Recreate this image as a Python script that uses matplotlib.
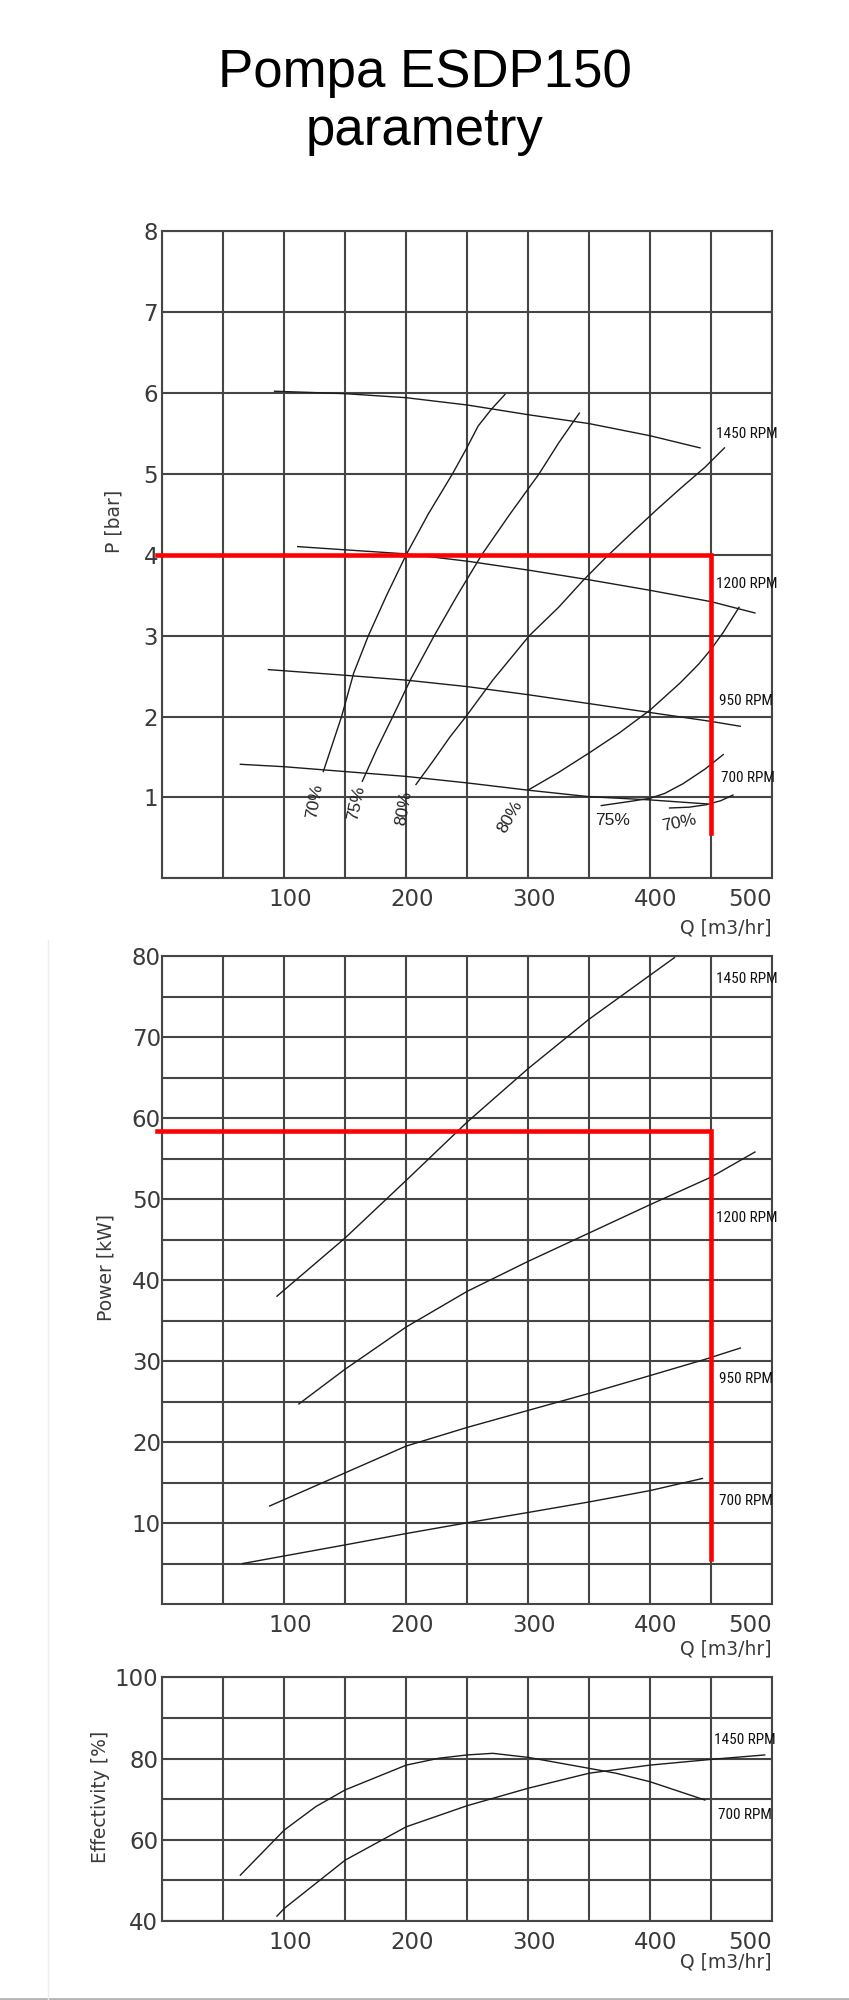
import matplotlib
matplotlib.use("Agg")
import matplotlib.pyplot as plt
from matplotlib.lines import Line2D
from matplotlib.transforms import ScaledTranslation

# ---- head curves P [bar] vs Q [m3/hr] ----
head_q_1450 = [92, 150, 200, 250, 300, 350, 400, 441]
head_p_1450 = [6.02, 5.99, 5.94, 5.85, 5.73, 5.62, 5.47, 5.32]
head_q_1200 = [111, 150, 200, 250, 300, 350, 400, 450, 486]
head_p_1200 = [4.10, 4.06, 4.01, 3.92, 3.81, 3.69, 3.56, 3.42, 3.28]
head_q_950 = [87, 150, 200, 250, 300, 350, 400, 450, 474]
head_p_950 = [2.58, 2.51, 2.45, 2.37, 2.27, 2.16, 2.05, 1.94, 1.88]
head_q_700 = [64, 100, 150, 200, 250, 300, 350, 400, 447]
head_p_700 = [1.41, 1.38, 1.32, 1.26, 1.18, 1.09, 1.01, 0.97, 0.92]

# iso-efficiency lines
iso70_q = [132, 136, 147, 157, 169, 184, 200, 218, 238, 249, 259, 270, 281]
iso70_p = [1.32, 1.5, 2.0, 2.54, 3.0, 3.5, 4.0, 4.5, 5.0, 5.3, 5.59, 5.8, 5.98]
iso75_q = [164, 176, 189, 204, 223, 242, 262, 285, 309, 325, 342]
iso75_p = [1.2, 1.6, 2.0, 2.47, 3.0, 3.5, 4.0, 4.5, 5.0, 5.38, 5.75]
iso80a_q = [208, 222, 236, 249, 271, 301, 325, 345, 364, 385, 405, 425, 445, 461]
iso80a_p = [1.16, 1.45, 1.75, 2.0, 2.45, 3.0, 3.35, 3.68, 3.97, 4.27, 4.55, 4.82, 5.08, 5.32]
iso80b_q = [301, 325, 350, 375, 400, 425, 440, 450, 460, 473]
iso80b_p = [1.10, 1.31, 1.55, 1.8, 2.08, 2.42, 2.65, 2.83, 3.04, 3.35]
iso75b_q = [360, 383, 400, 412, 427, 445, 460]
iso75b_p = [0.90, 0.95, 0.99, 1.05, 1.17, 1.35, 1.53]
iso70b_q = [416, 432, 446, 458, 468]
iso70b_p = [0.87, 0.88, 0.91, 0.96, 1.03]

# ---- power curves [kW] ----
pow_q_1450 = [94, 150, 200, 250, 300, 350, 420]
pow_kw_1450 = [38.0, 45.2, 52.3, 59.5, 66.1, 72.2, 79.8]
pow_q_1200 = [112, 150, 200, 250, 300, 350, 400, 450, 486]
pow_kw_1200 = [24.7, 29.0, 34.2, 38.6, 42.3, 45.8, 49.3, 52.7, 55.8]
pow_q_950 = [88, 150, 200, 250, 300, 350, 400, 445, 474]
pow_kw_950 = [12.1, 16.2, 19.5, 21.8, 23.9, 26.0, 28.2, 30.2, 31.6]
pow_q_700 = [66, 150, 200, 249, 300, 350, 400, 443]
pow_kw_700 = [5.0, 7.3, 8.7, 10.0, 11.3, 12.6, 14.0, 15.5]

# ---- efficiency curves [%] ----
eff_q_700 = [64, 100, 126, 150, 200, 227, 250, 271, 300, 350, 372, 400, 445]
eff_e_700 = [51.3, 62.4, 68.2, 72.3, 78.4, 80.1, 80.9, 81.3, 80.3, 77.6, 76.4, 74.3, 69.8]
eff_q_1450 = [94, 100, 150, 200, 250, 300, 350, 400, 450, 494]
eff_e_1450 = [41.2, 43.1, 55.0, 63.2, 68.4, 72.7, 76.4, 78.4, 79.8, 80.9]

# operating point (red)
op_q = 450
op_p = 4.0
op_p_low = 0.56
op_kw = 58.4
op_kw_low = 5.6

x_labels = ["100", "200", "300", "400", "500"]

GRID = "#454545"
CURVE = "#1c1c1c"
TXT = "#3a3a3a"
NARROW = ["Liberation Sans Narrow", "DejaVu Sans Condensed", "Roboto Condensed",
          "Roboto", "DejaVu Sans"]

fig = plt.figure(figsize=(8.49, 20), dpi=100)
fig.text(0.5, 0.9565, "Pompa ESDP150", ha="center", va="baseline",
         fontsize=38, family=["Liberation Sans", "DejaVu Sans"])
fig.text(0.5, 0.9275, "parametry", ha="center", va="baseline",
         fontsize=38, family=["Liberation Sans", "DejaVu Sans"])


def style_axes(ax, ymin, ymax, ymajor, yminor, ylabel, ylab_y, ylab_x, qlab_y):
    ax.set_xlim(0, 500)
    ax.set_ylim(ymin, ymax)
    ax.set_xticks([100, 200, 300, 400, 500])
    ax.set_xticklabels(x_labels)
    ax.set_xticks([0, 50, 150, 250, 350, 450], minor=True)
    ax.set_yticks(ymajor)
    ax.set_yticks(yminor, minor=True)
    ax.grid(True, which="both", color=GRID, lw=1.5)
    ax.set_axisbelow(True)
    for s in ax.spines.values():
        s.set_color(GRID)
        s.set_linewidth(1.5)
    ax.tick_params(which="both", length=0)
    ax.tick_params(axis="x", pad=7, labelsize=16.5, labelcolor=TXT)
    ax.tick_params(axis="y", pad=3, labelsize=16.5, labelcolor=TXT)
    shift = ScaledTranslation(6 / 100, 0, fig.dpi_scale_trans)
    labels = ax.get_xticklabels()
    for lab in labels[:-1]:
        lab.set_transform(lab.get_transform() + shift)
    labels[-1].set_horizontalalignment("right")
    ax.set_ylabel(ylabel, fontsize=13.5, color=TXT)
    ax.yaxis.set_label_coords(ylab_x, ylab_y)
    ax.text(1.0, qlab_y, "Q [m3/hr]", transform=ax.transAxes, ha="right",
            va="center", fontsize=13.5, color=TXT)


def rpm_label(ax, txt, q, v):
    ax.text(q, v, txt, ha="center", va="center", fontsize=11,
            family=NARROW, color="#111111")


# ---------------- pressure chart ----------------
ax1 = fig.add_axes([0.1912, 0.5608, 0.7181, 0.3237])
style_axes(ax1, 0, 8, list(range(1, 9)), [0], "P [bar]", 0.552, -0.064, -0.076)
for q, p in [(head_q_1450, head_p_1450), (head_q_1200, head_p_1200),
             (head_q_950, head_p_950), (head_q_700, head_p_700),
             (iso70_q, iso70_p), (iso75_q, iso75_p), (iso80a_q, iso80a_p),
             (iso80b_q, iso80b_p), (iso75b_q, iso75b_p), (iso70b_q, iso70b_p)]:
    ax1.plot(q, p, color=CURVE, lw=1.0)

for txt, q, p in [("1450 RPM", 479, 5.49), ("1200 RPM", 479, 3.64),
                  ("950 RPM", 479, 2.19), ("700 RPM", 480, 1.24)]:
    rpm_label(ax1, txt, q, p)

for txt, q, p, rot in [("70%", 125, 0.95, 80), ("75%", 159, 0.93, 78),
                       ("80%", 198, 0.87, 80), ("80%", 285, 0.76, 60),
                       ("75%", 369, 0.72, 0), ("70%", 424, 0.69, 12)]:
    ax1.text(q, p, txt, ha="center", va="center", fontsize=12.5, rotation=rot,
             family=["Liberation Sans", "DejaVu Sans"], color="#222222")

ax1.plot([-4, op_q, op_q], [op_p, op_p, op_p_low], color="#ff0000", lw=3.3,
         clip_on=False, solid_joinstyle="miter", zorder=5)

# ---------------- power chart ----------------
ax2 = fig.add_axes([0.1912, 0.198, 0.7181, 0.324])
style_axes(ax2, 0, 80, list(range(10, 81, 10)), list(range(5, 80, 10)),
           "Power [kW]", 0.52, -0.077, -0.069)
ax2.tick_params(axis="y", pad=1)
for q, p in [(pow_q_1450, pow_kw_1450), (pow_q_1200, pow_kw_1200),
             (pow_q_950, pow_kw_950), (pow_q_700, pow_kw_700)]:
    ax2.plot(q, p, color=CURVE, lw=1.0)
for txt, q, p in [("1450 RPM", 479, 77.1), ("1200 RPM", 479, 47.7),
                  ("950 RPM", 479, 27.8), ("700 RPM", 479, 12.7)]:
    rpm_label(ax2, txt, q, p)
ax2.plot([-4, op_q, op_q], [op_kw, op_kw, op_kw_low], color="#ff0000", lw=3.3,
         clip_on=False, solid_joinstyle="miter", zorder=5)

# ---------------- efficiency chart ----------------
ax3 = fig.add_axes([0.1912, 0.0395, 0.7181, 0.1218])
style_axes(ax3, 40, 100, [40, 60, 80, 100], [50, 70, 90],
           "Effectivity [%]", 0.51, -0.086, -0.168)
ax3.plot(eff_q_700, eff_e_700, color=CURVE, lw=1.0)
ax3.plot(eff_q_1450, eff_e_1450, color=CURVE, lw=1.0)
for txt, q, p in [("1450 RPM", 478, 84.7), ("700 RPM", 478, 66.1)]:
    rpm_label(ax3, txt, q, p)

# faint edges of the pasted images
fig.add_artist(Line2D([0, 1], [0.0007, 0.0007], transform=fig.transFigure,
                      color="#b4b4b4", lw=2))
fig.add_artist(Line2D([0.0565, 0.0565], [0.0, 0.53], transform=fig.transFigure,
                      color="#ededed", lw=1))

fig.savefig("out.png", dpi=100, facecolor="white")
